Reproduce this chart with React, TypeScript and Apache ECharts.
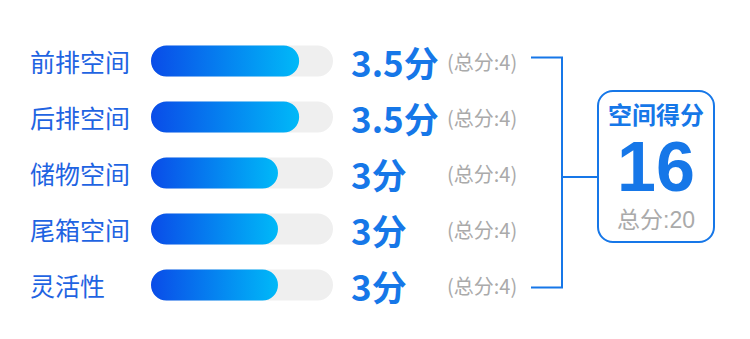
import React, { useEffect, useRef } from "react";
import * as echarts from "echarts";

const categories = ["前排空间", "后排空间", "储物空间", "尾箱空间", "灵活性"];
const scores = [3.5, 3.5, 3, 3, 3];
const fullScores = [4, 4, 4, 4, 4];
const totalLabel = "空间得分";
const totalFull = 20;

const FONT = "'Noto Sans CJK SC', 'Noto Sans', sans-serif";
const TIGHT = "'Liberation Sans', 'Noto Sans CJK SC', sans-serif";
const BLUE = "#1677e8";

export default function App() {
  const ref = useRef<HTMLDivElement>(null);
  useEffect(() => {
    if (!ref.current) return;
    const chart = echarts.init(ref.current, null, { renderer: "svg" });
    const total = scores.reduce((a, b) => a + b, 0);
    chart.setOption({
      animation: false,
      backgroundColor: "#ffffff",
      grid: { left: 151, top: 33, width: 182, height: 280 },
      xAxis: { type: "value", min: 0, max: 4.3, show: false },
      yAxis: [
        {
          type: "category",
          data: categories,
          inverse: true,
          axisLine: { show: false },
          axisTick: { show: false },
          axisLabel: {
            align: "left",
            margin: 121,
            fontSize: 25,
            color: "#1f64e2",
            fontFamily: FONT,
          },
        },
        {
          type: "category",
          data: categories.map((_, i) => i),
          inverse: true,
          position: "right",
          axisLine: { show: false },
          axisTick: { show: false },
          axisLabel: {
            align: "left",
            margin: 18,
            fontFamily: FONT,
            formatter: (v: string) => {
              const i = Number(v);
              return `{v|${scores[i]}分}{t|(总分:${fullScores[i]})}`;
            },
            rich: {
              v: { fontSize: 35, fontWeight: "bold", color: BLUE, width: 96, fontFamily: FONT },
              t: { fontSize: 20, color: "#aaaaaa", fontFamily: FONT },
            },
          },
        },
      ],
      series: [
        {
          type: "bar",
          data: scores,
          barWidth: 31,
          showBackground: true,
          backgroundStyle: { color: "#efefef", borderRadius: 16 },
          itemStyle: {
            borderRadius: 16,
            color: new echarts.graphic.LinearGradient(0, 0, 1, 0, [
              { offset: 0, color: "#0a4ce8" },
              { offset: 1, color: "#00b9f8" },
            ]),
          },
        },
      ],
      graphic: [
        {
          type: "polyline",
          shape: { points: [[531, 57.5], [562, 57.5], [562, 287.5], [531, 287.5]] },
          style: { stroke: BLUE, lineWidth: 2, fill: null },
        },
        {
          type: "line",
          shape: { x1: 562, y1: 177, x2: 597, y2: 177 },
          style: { stroke: BLUE, lineWidth: 2 },
        },
        {
          type: "rect",
          shape: { x: 598, y: 91, width: 116, height: 151, r: 15 },
          style: { stroke: BLUE, lineWidth: 2, fill: "#ffffff" },
        },
        {
          type: "text",
          x: 656,
          y: 115,
          style: {
            text: totalLabel,
            fontSize: 24,
            fontWeight: "bold",
            fill: BLUE,
            fontFamily: TIGHT,
            align: "center",
            verticalAlign: "middle",
          },
        },
        {
          type: "text",
          x: 656,
          y: 167,
          style: {
            text: String(total),
            fontSize: 70,
            fontWeight: "bold",
            fill: BLUE,
            fontFamily: TIGHT,
            align: "center",
            verticalAlign: "middle",
          },
        },
        {
          type: "text",
          x: 656,
          y: 220,
          style: {
            text: `总分:${totalFull}`,
            fontSize: 23,
            fill: "#aaaaaa",
            fontFamily: TIGHT,
            align: "center",
            verticalAlign: "middle",
          },
        },
      ],
    });
    return () => chart.dispose();
  }, []);
  return <div ref={ref} style={{ width: 750, height: 339, position: "absolute", left: 0, top: 0 }} />;
}
